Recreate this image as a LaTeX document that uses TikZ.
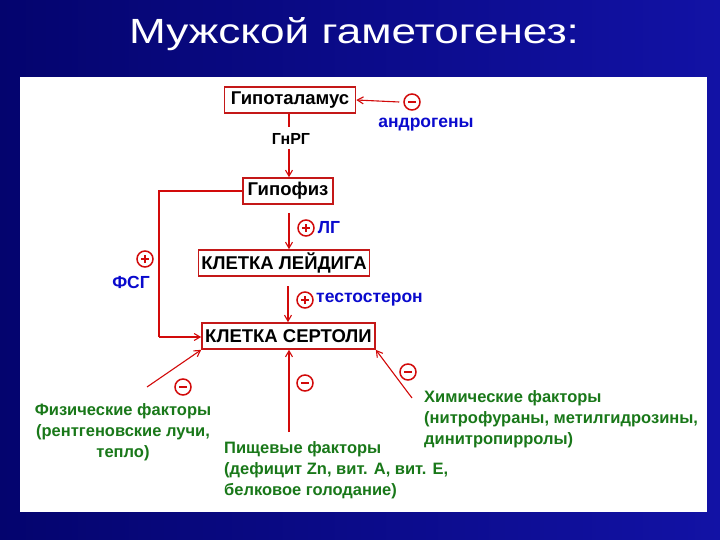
\documentclass[tikz,border=0pt]{standalone}
\usepackage{fontspec}
\setmainfont{Liberation Sans}
\usetikzlibrary{arrows.meta}
\definecolor{bgdark}{RGB}{4,4,110}
\definecolor{bglight}{RGB}{18,18,165}
\definecolor{boxred}{RGB}{196,24,24}
\definecolor{arrred}{RGB}{210,10,10}
\definecolor{hormblue}{RGB}{10,10,205}
\definecolor{factgreen}{RGB}{25,120,25}
\begin{document}
\begin{tikzpicture}[x=1pt,y=-1pt,
    cell/.style={draw=boxred,line width=1.6pt,fill=white,inner sep=0pt,
      minimum height=26pt,font=\fontsize{18.5}{20}\selectfont\bfseries},
    link/.style={draw=arrred,line width=1.1pt,-{Straight Barb[length=6pt,width=7pt]}},
    wire/.style={draw=arrred,line width=1.1pt},
    sign/.style={circle,draw=arrred,line width=1.5pt,inner sep=0pt,minimum size=16pt},
    minus/.style={sign,path picture={\draw[arrred,line width=2.2pt]
      ([xshift=-4pt]path picture bounding box.center) -- ([xshift=4pt]path picture bounding box.center);}},
    plus/.style={sign,path picture={\draw[arrred,line width=2.2pt]
      ([xshift=-4pt]path picture bounding box.center) -- ([xshift=4pt]path picture bounding box.center)
      ([yshift=-4pt]path picture bounding box.center) -- ([yshift=4pt]path picture bounding box.center);}},
    hormone/.style={text=hormblue,font=\fontsize{17.5}{19}\selectfont\bfseries,inner sep=0pt},
    factor/.style={text=factgreen,font=\fontsize{16.5}{21}\selectfont\bfseries,inner sep=0pt}]
  % background and panel
  \shade[left color=bgdark,right color=bglight] (0,0) rectangle (720,540);
  \useasboundingbox (0,0) rectangle (720,540);
  \fill[white] (20,77) rectangle (707,512);
  \node[text=white,font=\fontsize{35}{40}\selectfont] (title) at (354,34) {\scalebox{1.26}[1]{Мужской гаметогенез:}};

  % cells
  \node[cell,minimum width=131pt] (hypo) at (290,100) {Гипоталамус};
  \node[cell,minimum width=90pt] (hypof) at (288,191) {Гипофиз};
  \node[cell,minimum width=171pt] (leyd) at (284,263) {КЛЕТКА ЛЕЙДИГА};
  \node[cell,minimum width=173pt] (sert) at (288.5,336) {КЛЕТКА СЕРТОЛИ};

  % androgens
  \node[minus] (s1) at (412,102) {};
  \node[hormone] (andr) at (426,125) {андрогены};
  \draw[link] (s1.west) ++(-4,0) coordinate (a1) -- (hypo.east);

  % GnRH
  \node[font=\fontsize{16}{18}\selectfont\bfseries,inner sep=0pt] (gnrg) at (291,139) {ГнРГ};
  \coordinate (g1) at (289,127);
  \coordinate (g2) at (289,149);
  \draw[wire] (hypo.south -| g1) -- (g1);
  \draw[link] (g2) -- (hypof.north -| g2);

  % FSH
  \coordinate (f1) at (159,191);
  \coordinate (f2) at (159,337);
  \draw[wire] (hypof.west) -- (f1) -- (f2);
  \draw[link] (f2) -- (f2 -| sert.west);
  \node[plus] (s2) at (145,259) {};
  \node[hormone] (fsg) at (131,282) {ФСГ};

  % LH
  \coordinate (l1) at (289,213);
  \draw[link] (l1) -- (leyd.north -| l1);
  \node[plus] (s3) at (306,228) {};
  \node[hormone] (lg) at (329,228) {ЛГ};

  % testosterone
  \coordinate (t1) at (288,286);
  \draw[link] (t1) -- (sert.north -| t1);
  \node[plus] (s4) at (305,300) {};
  \node[hormone,anchor=west] (test) at (316,300) {тестостерон};

  % physical factors
  \coordinate (p1) at (147,387);
  \draw[link] (p1) -- (sert.south west);
  \node[minus] (s5) at (183,387) {};
  \node[factor,align=center] (phys) at (123,432) {Физические факторы\\(рентгеновские лучи,\\тепло)};

  % food factors
  \coordinate (n1) at (289,432);
  \draw[link] (n1) -- (sert.south -| n1);
  \node[minus] (s6) at (305,383) {};
  \node[factor,align=left,anchor=north west] (food) at (224,441) {Пищевые факторы\\(дефицит Zn, вит. А, вит. Е,\\белковое голодание)};

  % chemical factors
  \coordinate (c1) at (412,398);
  \draw[link] (c1) -- (sert.south east);
  \node[minus] (s7) at (408,372) {};
  \node[factor,align=left,anchor=north west] (chem) at (424,390) {Химические факторы\\(нитрофураны, метилгидрозины,\\динитропирролы)};
\end{tikzpicture}
\end{document}
